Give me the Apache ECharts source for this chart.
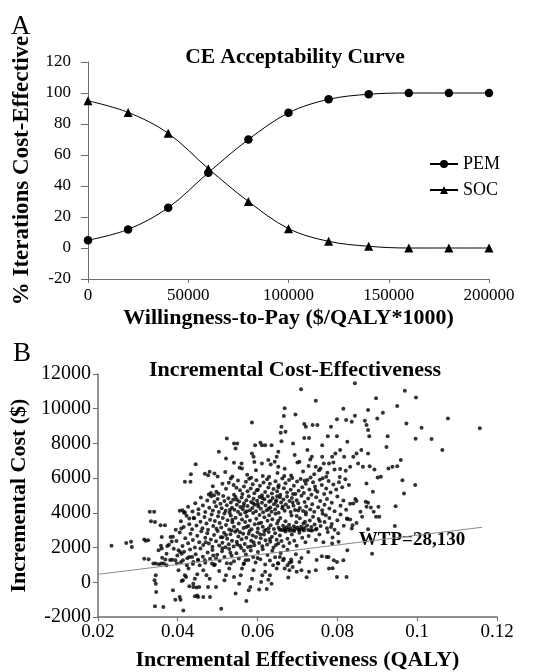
<!DOCTYPE html>
<html>
<head>
<meta charset="utf-8">
<script src="https://cdn.jsdelivr.net/npm/echarts@6/dist/echarts.min.js"></script>
<style>html,body{margin:0;padding:0;background:#fff}#c{width:539px;height:672px}</style>
</head>
<body>
<div id="c"></div>
<script>
// ---------- Panel A data ----------
const wtpCategories = [0, 20000, 40000, 60000, 80000, 100000, 120000, 140000, 160000, 180000, 200000];
const pemValues = [5, 12, 26, 48.6, 70, 87.2, 95.9, 99.2, 100, 100, 100];
const socValues = [95, 87.5, 74, 51.2, 30, 12.5, 4.3, 1.1, 0, 0, 0];

// ---------- Panel B data ----------
const wtpLine = [[0.02, 460], [0.1163, 3170]];
const wtpLabelPos = [[0.0987, 2420]];
const wtpLabelText = 'WTP=28,130';

const icerUpper = [
[0.0709,11115],[0.0844,11460],[0.0746,10460],[0.0668,10020],[0.0815,10000],[0.0897,10600],[0.0969,11040],[0.0997,10650],
[0.0950,10150],[0.0914,9770],[0.0844,9600],[0.0877,9920],[0.0695,9670],[0.0586,9210],[0.0799,9400],[0.0822,9350],
[0.0869,9300],[0.0900,9440],[0.0973,9150],[0.1077,9440],[0.1011,8900],[0.1036,8250],[0.0996,8270],[0.1063,7620],
[0.1157,8870],[0.0995,5600],[0.0967,5120],[0.0963,5880],[0.0946,4380],[0.0944,3250],[0.0959,7040],[0.0950,6690],
[0.0928,6560],[0.0938,6650],[0.0923,7800],[0.0926,8420],[0.0901,6040],[0.0909,6080],[0.0881,6690],[0.0893,6500],
[0.0877,7420],[0.0860,7620],[0.0848,7420],[0.0840,7230],[0.0873,9060],[0.0877,8770],[0.0880,8420],[0.0799,8420],
[0.0825,8100],[0.0836,9250],[0.0784,8960],[0.0776,8420],[0.0762,7900],[0.0795,7420],[0.0787,7230],[0.0817,7230],
[0.0832,6650],[0.0852,6850],[0.0864,6650],[0.0873,5690],[0.0877,4580],[0.0873,4350],[0.0897,3770],[0.0905,3770],
[0.0891,4060],[0.0903,4350],[0.0889,5210],[0.0848,4690],[0.0840,4540],[0.0832,3620],[0.0838,3290],[0.0824,3670],
[0.0825,1850],[0.0803,2330],[0.0787,2230],[0.0791,1270],[0.0799,310],[0.0887,1650],[0.0710,690],[0.0698,600],
[0.0677,270],[0.0773,1460],[0.0761,1500],[0.0779,790],[0.0807,7620],[0.0750,9060],[0.0717,9120],[0.0721,8960],
[0.0738,9060],[0.0666,9580],[0.0660,8960],[0.0670,8670],[0.0658,8620],[0.0689,8000],[0.0717,8310],[0.0729,8310],
[0.0660,8120],[0.0619,7900],[0.0635,7900],[0.0607,8040],[0.0611,7900],[0.0594,7900],[0.0549,8000],[0.0523,8290],
[0.0541,8000],[0.0586,7420],[0.0590,7230],[0.0545,7710],[0.0521,7130],[0.0503,7520],[0.0480,6370],[0.0492,6270],
[0.0476,6170],[0.0560,6850],[0.0561,6560],[0.0611,6850],[0.0627,7040],[0.0643,6940],[0.0648,7230],[0.0652,6650],
[0.0652,7520],[0.0693,7330],[0.0705,6940],[0.0725,7620],[0.0736,7230],[0.0732,7080],[0.0746,6650],[0.0762,7230],
[0.0766,6850],[0.0754,6460],[0.0779,6850],[0.0793,6500],
[0.0468,6260],[0.0500,6100],[0.0519,6350],[0.0537,6090],[0.0555,6600],[0.0574,6200],[0.0596,6450],[0.0613,6120],
[0.0633,6780],[0.0650,6300],[0.0668,6540],[0.0684,6150],[0.0700,6900],[0.0714,6380],[0.0728,6700],[0.0742,6220],
[0.0758,6560],[0.0775,6310],[0.0790,6900],[0.0806,6060],[0.0821,6420],[0.0541,6880],[0.0592,6930],[0.0667,6130],
[0.0733,6040],[0.0772,6080],[0.0807,6520],[0.0433,6230],[0.0445,6800],[0.0418,5790],[0.0432,5790]
];

const icerCore = [
[0.0478,5060],[0.0483,5150],[0.0491,5020],[0.0497,5210],[0.0502,5100],[0.0488,5540],[0.0512,5680],[0.0521,5390],
[0.0528,5730],[0.0533,5980],[0.0540,5610],[0.0547,5450],[0.0551,5870],[0.0556,5300],[0.0562,5080],[0.0566,5520],
[0.0571,5790],[0.0575,5240],[0.0579,5960],[0.0583,5410],[0.0588,5650],[0.0592,5130],[0.0597,5880],[0.0601,5330],
[0.0606,5560],[0.0611,5020],[0.0615,5750],[0.0619,5200],[0.0624,5940],[0.0627,5460],[0.0631,5680],[0.0636,5110],
[0.0640,5370],[0.0645,5820],[0.0649,5250],[0.0653,5590],[0.0657,5050],[0.0662,5980],[0.0666,5420],[0.0670,5710],
[0.0674,5180],[0.0679,5890],[0.0683,5330],[0.0687,6010],[0.0691,5560],[0.0695,5090],[0.0699,5800],[0.0703,5270],
[0.0708,5950],[0.0712,5480],[0.0716,5140],[0.0721,5670],[0.0725,5900],[0.0730,5350],[0.0735,5040],[0.0739,5760],
[0.0744,5520],[0.0750,5210],[0.0756,5910],[0.0761,5610],[0.0767,5080],[0.0772,5400],[0.0778,5830],[0.0783,5170],
[0.0790,5640],[0.0797,5350],[0.0804,5760],[0.0812,5480],[0.0820,5930],[0.0829,5600],[0.0541,5040],[0.0598,5300],
[0.0652,5480],[0.0689,5090],[0.0718,5850],[0.0745,5330],[0.0763,6000],[0.0584,6020],[0.0629,6080],
[0.0405,4120],[0.0418,4030],[0.0426,4350],[0.0437,4080],[0.0444,4560],[0.0452,4210],[0.0458,4890],[0.0463,4420],
[0.0469,4050],[0.0474,4710],[0.0479,4300],[0.0484,4950],[0.0488,4140],[0.0492,4620],[0.0496,4380],[0.0500,4800],
[0.0503,4050],[0.0507,4530],[0.0510,4260],[0.0514,4970],[0.0517,4690],[0.0520,4120],[0.0523,4440],[0.0527,4840],
[0.0530,4010],[0.0533,4590],[0.0536,4300],[0.0539,4760],[0.0542,4180],[0.0545,4910],[0.0548,4470],[0.0551,4060],
[0.0554,4650],[0.0557,4340],[0.0560,4880],[0.0563,4210],[0.0566,4560],[0.0569,4020],[0.0572,4730],[0.0575,4400],
[0.0578,4950],[0.0581,4150],[0.0584,4620],[0.0587,4280],[0.0590,4810],[0.0593,4470],[0.0596,4090],[0.0599,4700],
[0.0602,4360],[0.0605,4920],[0.0608,4230],[0.0611,4580],[0.0614,4040],[0.0617,4780],[0.0620,4420],[0.0623,4150],
[0.0626,4960],[0.0629,4640],[0.0632,4310],[0.0635,4070],[0.0638,4850],[0.0641,4500],[0.0644,4190],[0.0647,4730],
[0.0650,4400],[0.0653,4010],[0.0656,4900],[0.0659,4600],[0.0662,4260],[0.0665,4770],[0.0668,4120],[0.0671,4480],
[0.0674,4940],[0.0677,4330],[0.0680,4680],[0.0683,4050],[0.0686,4850],[0.0690,4410],[0.0694,4170],[0.0698,4720],
[0.0702,4560],[0.0706,4280],[0.0710,4990],[0.0714,4110],[0.0718,4620],[0.0722,4370],[0.0727,4830],[0.0732,4190],
[0.0737,4500],[0.0742,4060],[0.0747,4900],[0.0752,4330],[0.0757,4680],[0.0762,4150],[0.0768,4470],[0.0774,4800],
[0.0780,4250],[0.0786,4580],[0.0793,4090],[0.0800,4940],[0.0808,4410],[0.0815,4710],[0.0822,4180],[0.0832,4520],
[0.0845,4800],[0.0858,4060],[0.0871,4640],[0.0884,4310],[0.0531,4180],[0.0565,4390],[0.0601,4510],[0.0628,4240],
[0.0646,4620],[0.0663,4360],[0.0688,4600],[0.0721,4040],[0.0573,4090],[0.0612,4850],[0.0649,4960],[0.0702,4140],
[0.0548,4760],[0.0589,4560],[0.0633,4700],
[0.0395,3020],[0.0408,3520],[0.0415,3180],[0.0422,3830],[0.0429,3350],[0.0436,3060],[0.0441,3690],[0.0447,3270],
[0.0452,3940],[0.0457,3490],[0.0462,3110],[0.0467,3760],[0.0472,3380],[0.0476,3020],[0.0481,3610],[0.0485,3900],
[0.0489,3240],[0.0493,3530],[0.0497,3080],[0.0501,3800],[0.0505,3420],[0.0509,3150],[0.0513,3700],[0.0517,3960],
[0.0521,3300],[0.0525,3580],[0.0529,3040],[0.0533,3850],[0.0537,3460],[0.0541,3200],[0.0545,3720],[0.0549,3010],
[0.0553,3390],[0.0557,3920],[0.0561,3620],[0.0565,3130],[0.0569,3480],[0.0573,3810],[0.0577,3250],[0.0581,3560],
[0.0585,3050],[0.0589,3990],[0.0593,3340],[0.0597,3660],[0.0601,3100],[0.0605,3880],[0.0609,3430],[0.0613,3200],
[0.0617,3740],[0.0621,3020],[0.0625,3550],[0.0629,3860],[0.0633,3290],[0.0637,3630],[0.0641,3070],[0.0645,3950],
[0.0649,3380],[0.0653,3140],[0.0657,3700],[0.0661,3010],[0.0664,3260],[0.0667,3080],[0.0670,3520],[0.0673,3170],
[0.0676,3040],[0.0679,3310],[0.0682,3110],[0.0685,3850],[0.0688,3000],[0.0691,3230],[0.0694,3090],[0.0697,3460],
[0.0700,3150],[0.0703,3020],[0.0706,3690],[0.0709,3200],[0.0712,3060],[0.0715,3380],[0.0718,3130],[0.0721,3910],
[0.0724,3270],[0.0727,3010],[0.0731,3560],[0.0735,3180],[0.0739,3780],[0.0743,3330],[0.0748,3090],[0.0753,3640],
[0.0758,3240],[0.0763,3950],[0.0768,3470],[0.0774,3120],[0.0780,3700],[0.0786,3360],[0.0793,3030],[0.0800,3580],
[0.0808,3900],[0.0816,3260],[0.0825,3640],[0.0836,3100],[0.0848,3420],[0.0862,3780],[0.0877,3050],[0.0668,2990],
[0.0692,2960],[0.0716,2980],[0.0705,3010],[0.0681,2970],[0.0656,3030],[0.0733,2990],[0.0746,3040],[0.0537,3610],
[0.0572,3180],[0.0603,3390],[0.0628,3120],[0.0652,3550],[0.0698,3820],[0.0719,3490],[0.0756,3520],[0.0771,3860],
[0.0784,3180],
[0.0378,2160],[0.0388,2620],[0.0397,2380],[0.0405,2870],[0.0412,2090],[0.0419,2540],[0.0426,2250],[0.0432,2790],
[0.0438,2430],[0.0443,2010],[0.0449,2680],[0.0454,2310],[0.0459,2940],[0.0464,2150],[0.0469,2570],[0.0474,2820],
[0.0478,2240],[0.0483,2470],[0.0487,2050],[0.0491,2730],[0.0496,2360],[0.0500,2960],[0.0504,2120],[0.0508,2600],
[0.0512,2280],[0.0516,2850],[0.0520,2020],[0.0524,2510],[0.0528,2190],[0.0532,2770],[0.0536,2400],[0.0540,2060],
[0.0544,2910],[0.0548,2330],[0.0552,2640],[0.0556,2100],[0.0560,2480],[0.0564,2800],[0.0568,2200],[0.0572,2560],
[0.0576,2030],[0.0580,2950],[0.0584,2390],[0.0588,2700],[0.0592,2140],[0.0596,2610],[0.0600,2880],[0.0604,2260],
[0.0608,2530],[0.0612,2070],[0.0616,2760],[0.0620,2420],[0.0624,2170],[0.0628,2900],[0.0632,2340],[0.0636,2620],
[0.0640,2010],[0.0644,2830],[0.0648,2450],[0.0652,2230],[0.0656,2700],[0.0660,2380],[0.0665,2080],[0.0670,2930],
[0.0675,2510],[0.0680,2270],[0.0686,2750],[0.0692,2400],[0.0698,2110],[0.0705,2860],[0.0712,2560],[0.0720,2300],
[0.0728,2670],[0.0737,2980],[0.0746,2440],[0.0755,2760],[0.0765,2310],[0.0776,2900],[0.0788,2580],[0.0802,2820],
[0.0470,2300],[0.0512,2590],[0.0556,2880],[0.0583,2060],[0.0607,2750],[0.0631,2490],[0.0549,2170],[0.0521,2730],
[0.0590,2310],[0.0617,2960],[0.0646,2150],[0.0578,2790],[0.0535,2990],
[0.0352,1840],[0.0361,1420],[0.0372,1650],[0.0381,1280],[0.0390,1930],[0.0399,1550],[0.0408,1150],[0.0416,1760],
[0.0424,1380],[0.0431,1890],[0.0438,1060],[0.0445,1620],[0.0451,1300],[0.0457,1950],[0.0463,1470],[0.0469,1120],
[0.0475,1710],[0.0481,1350],[0.0487,1860],[0.0493,1030],[0.0499,1580],[0.0505,1240],[0.0511,1790],[0.0517,1450],
[0.0523,1100],[0.0529,1920],[0.0535,1530],[0.0541,1210],[0.0547,1680],[0.0553,1370],[0.0559,1970],[0.0565,1050],
[0.0571,1600],[0.0577,1290],[0.0583,1830],[0.0589,1460],[0.0595,1140],[0.0601,1750],[0.0607,1330],[0.0613,1900],
[0.0619,1020],[0.0625,1570],[0.0631,1260],[0.0637,1810],[0.0644,1440],[0.0651,1090],[0.0658,1690],[0.0666,1350],
[0.0675,1880],[0.0685,1180],[0.0696,1620],[0.0710,1400],[0.0727,1750],[0.0748,1290],[0.0532,1700],[0.0566,1820],
[0.0600,1400],[0.0489,1540],[0.0512,1960]
];

const icerLower = [
[0.0234,2100],[0.0271,2270],[0.0283,2330],[0.0285,2040],[0.0316,1350],[0.0316,2460],[0.0320,2400],[0.0330,4060],
[0.0333,3520],[0.0339,1080],[0.0342,115],[0.0345,400],[0.0345,-80],[0.0343,-1380],[0.0364,-1420],[0.0346,-560],
[0.0357,3290],[0.0360,2615],[0.0358,2100],[0.0359,1080],[0.0382,2615],[0.0385,2350],[0.0388,-460],[0.0394,-1000],
[0.0405,-850],[0.0407,-1000],[0.0414,-1620],[0.0386,1300],[0.0409,3100],[0.0412,4150],[0.0416,4010],[0.0402,1850],
[0.0406,1750],[0.0410,1650],[0.0418,400],[0.0429,-230],[0.0439,-270],[0.0447,-300],[0.0443,-810],[0.0449,-760],
[0.0429,3670],[0.0440,3710],
[0.0365,1080],[0.0394,1270],[0.0398,1080],[0.0402,690],[0.0413,1270],[0.0423,980],[0.0427,790],[0.0421,310],
[0.0443,210],[0.0449,460],[0.0455,980],[0.0468,1270],[0.0464,690],[0.0472,400],[0.0480,210],[0.0476,-270],
[0.0481,-850],[0.0496,-270],[0.0509,-1520],[0.0517,115],[0.0521,400],[0.0529,790],[0.0533,1080],[0.0541,310],
[0.0545,-650],[0.0554,-80],[0.0558,400],[0.0561,790],[0.0566,1080],[0.0570,1270],[0.0572,-1080],[0.0578,-460],
[0.0582,-270],[0.0586,210],[0.0590,690],[0.0604,-420],[0.0609,20],[0.0612,400],[0.0619,600],[0.0623,-380],
[0.0627,150],[0.0631,400],[0.0635,-80],[0.0639,980],[0.0648,790],[0.0652,1080],[0.0656,1460],[0.0664,1270],
[0.0668,790],[0.0675,980],[0.0680,1120],[0.0684,1310],[0.0504,650],[0.0491,980],[0.0496,1370],[0.0486,1080],
[0.0451,1270],[0.0439,1170],[0.0436,1460],[0.0429,1460],[0.0372,980],[0.0369,1310],[0.0353,1040],[0.0410,80],
[0.0439,-80],[0.0454,-270],[0.0464,-850],[0.0451,-850],[0.0413,120],
[0.0778,1460],[0.0799,1170],[0.0815,1270],[0.0823,310],[0.0788,810],[0.0746,690],[0.0729,600],[0.0723,290],
[0.0705,1170],[0.0688,880],[0.0680,690],[0.0326,2420],[0.0341,4060],[0.0343,3480],[0.0368,3290],[0.0327,1330],
[0.0345,1080],[0.0360,1940],[0.0374,2090]
];

const icerPoints = icerUpper.concat(icerCore, icerLower);

// ---------- Chart ----------
const serif = 'Liberation Serif';
const axisColor = '#6e6e6e';
const chart = echarts.init(document.getElementById('c'), null, {renderer: 'canvas'});
const plain = v => String(v);

const option = {
  backgroundColor: '#fff',
  animation: false,
  textStyle: {fontFamily: serif, color: '#000'},
  title: [
    {text: 'A', left: 6, top: 8, textStyle: {fontFamily: serif, fontSize: 27, fontWeight: 'normal', color: '#000'}},
    {text: 'CE Acceptability Curve', left: 290, top: 41, textAlign: 'center', textStyle: {fontFamily: serif, fontSize: 21.5, fontWeight: 'bold', color: '#000'}},
    {text: 'B', left: 8, top: 335, textStyle: {fontFamily: serif, fontSize: 27, fontWeight: 'normal', color: '#000'}},
    {text: 'Incremental Cost-Effectiveness', left: 290, top: 354, textAlign: 'center', textStyle: {fontFamily: serif, fontSize: 22, fontWeight: 'bold', color: '#000'}}
  ],
  legend: {
    data: ['PEM', 'SOC'],
    orient: 'vertical',
    left: 424, top: 150,
    itemWidth: 28, itemHeight: 10, itemGap: 8,
    textStyle: {fontFamily: serif, fontSize: 18, color: '#000'}
  },
  grid: [
    {left: 88, top: 62, width: 401, height: 217},
    {left: 89, top: 374, width: 408, height: 243}
  ],
  xAxis: [
    {
      gridIndex: 0, type: 'value', min: 0, max: 200000, interval: 50000,
      name: 'Willingness-to-Pay ($/QALY*1000)', nameLocation: 'middle', nameGap: 28,
      nameTextStyle: {fontFamily: serif, fontSize: 22, fontWeight: 'bold', color: '#000'},
      axisLine: {onZero: false, lineStyle: {color: axisColor, width: 1}},
      axisTick: {show: true, length: 4, lineStyle: {color: axisColor}},
      axisLabel: {fontFamily: serif, fontSize: 17, color: '#000', margin: 8, formatter: plain},
      splitLine: {show: false}
    },
    {
      gridIndex: 1, type: 'value', min: 0.02, max: 0.12, interval: 0.02,
      name: 'Incremental Effectiveness (QALY)', nameLocation: 'middle', nameGap: 32,
      nameTextStyle: {fontFamily: serif, fontSize: 22, fontWeight: 'bold', color: '#000'},
      axisLine: {onZero: false, lineStyle: {color: axisColor, width: 1.5}},
      axisTick: {show: true, length: 4, lineStyle: {color: axisColor}},
      axisLabel: {fontFamily: serif, fontSize: 19, color: '#000', margin: 6,
        formatter: v => String(+v.toFixed(2))},
      splitLine: {show: false}
    }
  ],
  yAxis: [
    {
      gridIndex: 0, type: 'value', min: -20, max: 120, interval: 20,
      name: '% Iterations Cost-Effective', nameLocation: 'middle', nameGap: 54,
      nameTextStyle: {fontFamily: serif, fontSize: 23, fontWeight: 'bold', color: '#000'},
      axisLine: {show: true, onZero: false, lineStyle: {color: axisColor, width: 1}},
      axisTick: {show: true, length: 7, lineStyle: {color: axisColor}},
      axisLabel: {fontFamily: serif, fontSize: 17, color: '#000', margin: 17, formatter: plain},
      splitLine: {show: false}
    },
    {
      gridIndex: 1, type: 'value', min: -2000, max: 12000, interval: 2000,
      name: 'Incremental Cost ($)', nameLocation: 'middle', nameGap: 53,
      nameTextStyle: {fontFamily: serif, fontSize: 22, fontWeight: 'bold', color: '#000'},
      axisLine: {show: true, onZero: false, lineStyle: {color: axisColor, width: 1.5}},
      axisTick: {show: true, length: 5, lineStyle: {color: axisColor}},
      axisLabel: {fontFamily: serif, fontSize: 20, color: '#000', margin: 7, formatter: plain},
      splitLine: {show: false}
    }
  ],
  series: [
    {
      name: 'PEM', type: 'line', xAxisIndex: 0, yAxisIndex: 0, smooth: 0.35,
      data: wtpCategories.map((x, i) => [x, pemValues[i]]),
      symbol: 'circle', symbolSize: 8.5,
      lineStyle: {color: '#000', width: 1}, itemStyle: {color: '#000'}
    },
    {
      name: 'SOC', type: 'line', xAxisIndex: 0, yAxisIndex: 0, smooth: 0.35,
      data: wtpCategories.map((x, i) => [x, socValues[i]]),
      symbol: 'triangle', symbolSize: 9,
      lineStyle: {color: '#000', width: 1}, itemStyle: {color: '#000'}
    },
    {
      name: 'ICER', type: 'scatter', xAxisIndex: 1, yAxisIndex: 1,
      data: icerPoints, symbol: 'circle', symbolSize: 4,
      itemStyle: {color: '#000'}, silent: true
    },
    {
      name: 'WTP', type: 'line', xAxisIndex: 1, yAxisIndex: 1,
      data: wtpLine, symbol: 'none', silent: true,
      lineStyle: {color: '#8a8a8a', width: 1}
    },
    {
      name: 'WTPLabel', type: 'scatter', xAxisIndex: 1, yAxisIndex: 1,
      data: wtpLabelPos, symbolSize: 0, silent: true,
      label: {show: true, position: 'inside', formatter: wtpLabelText,
        fontFamily: serif, fontSize: 19, fontWeight: 'bold', color: '#000', opacity: 1}
    }
  ]
};
chart.setOption(option);
</script>
</body>
</html>
